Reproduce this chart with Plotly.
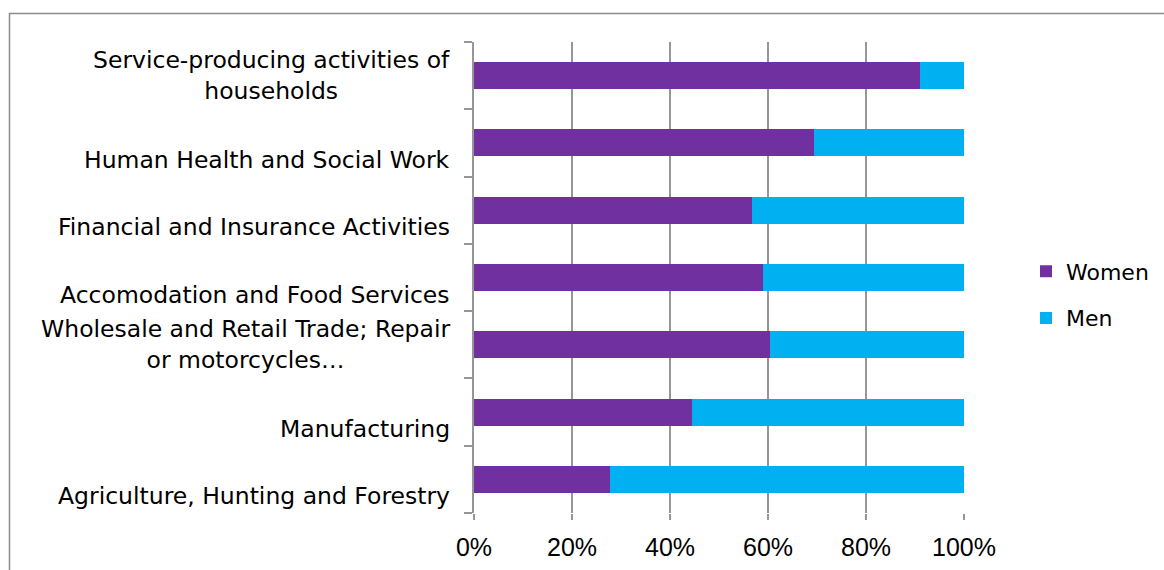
import plotly.graph_objects as go

# Sectors listed bottom-to-top as they appear on the y axis
categories = [
    "Agriculture, Hunting and Forestry",
    "Manufacturing",
    "Wholesale and Retail Trade; Repair<br>or motorcycles…",
    "Accomodation and Food Services",
    "Financial and Insurance Activities",
    "Human Health and Social Work",
    "Service-producing activities of<br>households",
]
women = [27.7, 44.4, 60.4, 58.9, 56.8, 69.3, 91.0]
men = [round(100 - w, 1) for w in women]
x_ticks = [0, 20, 40, 60, 80, 100]
x_tick_labels = ["0%", "20%", "40%", "60%", "80%", "100%"]

PURPLE = "#7030A0"
CYAN = "#00B0F0"
GRID = "#969696"
LABEL_FONT = dict(family="DejaVu Sans", size=23.5, color="#000000")

# Figure geometry (pixels)
W, H = 1164, 570
L, R, T, B = 474, 200, 42, 57
PW, PH = W - L - R, H - T - B

fig = go.Figure()
fig.add_trace(go.Bar(y=categories, x=women, name="Women", orientation="h",
                     legendgroup="w",
                     marker=dict(color=PURPLE, line=dict(width=0))))
fig.add_trace(go.Bar(y=categories, x=men, name="Men", orientation="h",
                     legendgroup="m",
                     marker=dict(color=CYAN, line=dict(width=0))))

# Category labels drawn as centred, right-anchored annotations
for cat in categories:
    multiline = "<br>" in cat
    fig.add_annotation(
        x=0, xref="paper", y=cat, yref="y",
        text=cat, showarrow=False,
        xanchor="right", yanchor="middle", align="center",
        xshift=-22, yshift=0 if multiline else -17,
        font=LABEL_FONT,
    )

fig.update_layout(
    barmode="stack",
    bargap=0.6,
    width=W, height=H,
    margin=dict(l=L, r=R, t=T, b=B, autoexpand=False),
    paper_bgcolor="white",
    plot_bgcolor="white",
    showlegend=True,
    legend=dict(
        x=(1026 - L) / PW, xanchor="left",
        y=(H - B - 295) / PH, yanchor="middle",
        font=dict(family="DejaVu Sans", size=22, color="#000000"),
        itemsizing="constant", tracegroupgap=15, itemwidth=30,
        traceorder="grouped",
        bgcolor="rgba(0,0,0,0)",
    ),
    shapes=[
        dict(type="rect", xref="paper", yref="paper",
             x0=(9.5 - L) / PW, x1=(W + 20 - L) / PW,
             y0=-(B + 20) / PH, y1=1 + (T - 13.5) / PH,
             line=dict(color="#8c8c8c", width=1.5), fillcolor="rgba(0,0,0,0)",
             layer="below"),
    ],
)

fig.update_xaxes(
    range=[0, 100], tickvals=x_ticks, ticktext=x_tick_labels,
    showgrid=True, gridcolor=GRID, gridwidth=1.5,
    ticks="outside", ticklen=6, tickcolor=GRID, tickwidth=1.5,
    ticklabelstandoff=6,
    showline=False, zeroline=False,
    tickfont=dict(family="Liberation Sans", size=25, color="#000000"),
    fixedrange=True,
)
fig.update_yaxes(
    type="category", categoryorder="array", categoryarray=categories,
    showticklabels=False,
    tickson="boundaries", ticks="outside", ticklen=8, tickcolor=GRID, tickwidth=1.5,
    showline=True, linecolor=GRID, linewidth=1.5,
    showgrid=False, zeroline=False,
    fixedrange=True,
)

fig.write_html("out.html")
